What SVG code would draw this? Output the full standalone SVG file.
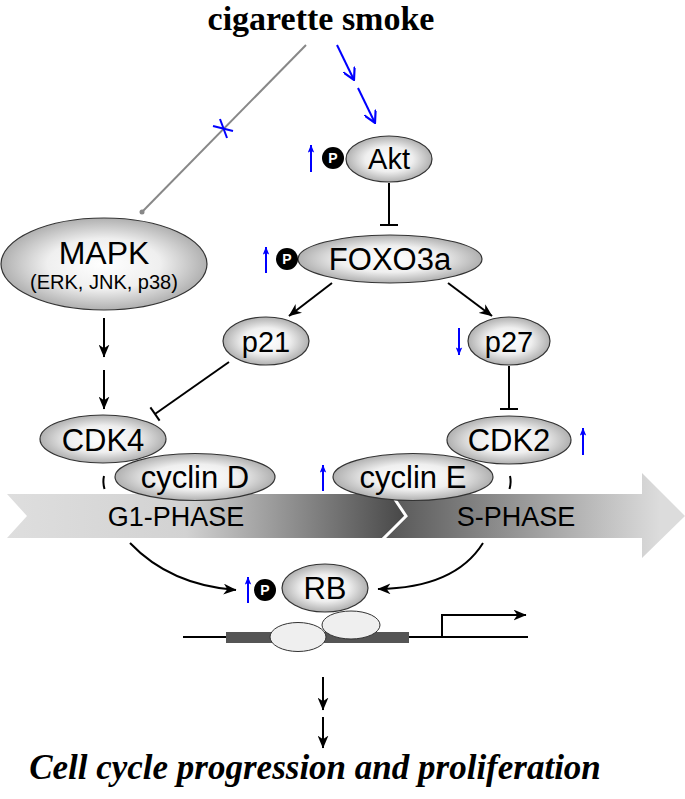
<svg xmlns="http://www.w3.org/2000/svg" width="685" height="799" viewBox="0 0 685 799">
<defs>
<radialGradient id="eg" cx="50%" cy="50%" r="55%">
<stop offset="0" stop-color="#ffffff"/>
<stop offset="0.5" stop-color="#efefef"/>
<stop offset="1" stop-color="#a2a2a2"/>
</radialGradient>
<linearGradient id="g1" gradientUnits="userSpaceOnUse" x1="7" y1="0" x2="405" y2="0">
<stop offset="0" stop-color="#dedede"/>
<stop offset="0.45" stop-color="#d2d2d2"/>
<stop offset="1" stop-color="#474747"/>
</linearGradient>
<linearGradient id="gs" gradientUnits="userSpaceOnUse" x1="385" y1="0" x2="660" y2="0">
<stop offset="0" stop-color="#555555"/>
<stop offset="1" stop-color="#dcdcdc"/>
</linearGradient>
<marker id="ab" viewBox="0 0 12 10" refX="11.5" refY="5" markerWidth="13" markerHeight="11" markerUnits="userSpaceOnUse" orient="auto">
<path d="M0,0 L12,5 L0,10 L3.5,5 z" fill="#000"/>
</marker>
<marker id="au" viewBox="0 0 10 8" refX="9.5" refY="4" markerWidth="8" markerHeight="7" markerUnits="userSpaceOnUse" orient="auto">
<path d="M0,0 L10,4 L0,8 L2,4 z" fill="#0000ff"/>
</marker>
<marker id="av" viewBox="0 0 12 12" refX="11" refY="6" markerWidth="13" markerHeight="13" markerUnits="userSpaceOnUse" orient="auto">
<path d="M0,0 L11,6 L0,12" fill="none" stroke="#0000ff" stroke-width="2"/>
</marker>
</defs>
<style>
.node{fill:url(#eg);stroke:#333;stroke-width:1.2}
.lbl{font-family:"Liberation Sans",Arial,sans-serif;fill:#000;text-anchor:middle}
.ph{fill:#000;stroke:none}
.pt{font-family:"Liberation Sans",Arial,sans-serif;font-weight:bold;font-size:14px;fill:#fff;text-anchor:middle}
.blk{stroke:#000;stroke-width:2;fill:none}
.blu{stroke:#0000ff;stroke-width:2;fill:none}
.ttl{font-family:"Liberation Serif","Times New Roman",serif;font-weight:bold;fill:#000;text-anchor:middle}
</style>
<rect width="685" height="799" fill="#fff"/>

<g id="title"><text class="ttl" x="321" y="30" font-size="34">cigarette smoke</text></g>

<g id="connectors">
<line x1="306" y1="45" x2="143" y2="211" stroke="#888" stroke-width="2"/>
<circle cx="142" cy="212" r="2.5" fill="#888"/>
<line x1="213" y1="126" x2="233" y2="131" class="blu"/>
<line x1="220" y1="119" x2="227" y2="138" class="blu"/>
<line x1="337" y1="45" x2="354" y2="80" class="blu" marker-end="url(#av)"/>
<line x1="358" y1="88" x2="375" y2="123" class="blu" marker-end="url(#av)"/>
<line x1="389" y1="183" x2="389" y2="225" class="blk"/>
<line x1="380" y1="225" x2="398" y2="225" class="blk"/>
<line x1="332" y1="283" x2="289" y2="316" class="blk" marker-end="url(#ab)"/>
<line x1="448" y1="283" x2="492" y2="316" class="blk" marker-end="url(#ab)"/>
<line x1="509" y1="366" x2="509" y2="409" class="blk"/>
<line x1="500" y1="409" x2="518" y2="409" class="blk"/>
<line x1="229" y1="362" x2="155" y2="414" class="blk"/>
<line x1="150.4" y1="407.4" x2="159.6" y2="420.6" class="blk"/>
<line x1="104" y1="318" x2="104" y2="357" class="blk" marker-end="url(#ab)"/>
<line x1="104" y1="370" x2="104" y2="409" class="blk" marker-end="url(#ab)"/>
<path d="M104,476 Q102.5,482 104.5,489" class="blk"/>
<path d="M510,476 Q511.5,482 509.5,489" class="blk"/>
<path d="M130,543 Q170,585 236,590" class="blk" marker-end="url(#ab)"/>
<path d="M483,543 Q455,588 378,589" class="blk" marker-end="url(#ab)"/>
<line x1="323" y1="677" x2="323" y2="710" class="blk" marker-end="url(#ab)"/>
<line x1="323" y1="717" x2="323" y2="748" class="blk" marker-end="url(#ab)"/>
</g>

<g id="phase-band">
<polygon points="7,494 390,494 406,516 382,538 7,538 27,516" fill="url(#g1)"/>
<polygon points="390,494 642,494 642,473 685,516 642,558 642,538 382,538 406,516" fill="url(#gs)"/>
<polyline points="390,492 406,516 382,540" fill="none" stroke="#fff" stroke-width="3"/>
<text class="lbl" x="176" y="526" font-size="27" fill="#111">G1-PHASE</text>
<text class="lbl" x="516" y="526" font-size="27">S-PHASE</text>
</g>

<g id="akt">
<ellipse class="node" cx="389" cy="159" rx="43" ry="23"/>
<text class="lbl" x="389" y="169" font-size="29">Akt</text>
<circle class="ph" cx="333" cy="158" r="11"/>
<text class="pt" x="333" y="163">P</text>
<line x1="311" y1="172" x2="311" y2="145" class="blu" marker-end="url(#au)"/>
</g>

<g id="foxo3a">
<ellipse class="node" cx="390" cy="259" rx="92" ry="24"/>
<text class="lbl" x="390" y="270" font-size="31">FOXO3a</text>
<circle class="ph" cx="287" cy="259" r="11"/>
<text class="pt" x="287" y="264">P</text>
<line x1="266" y1="273" x2="266" y2="247" class="blu" marker-end="url(#au)"/>
</g>

<g id="mapk">
<ellipse class="node" cx="104" cy="264" rx="103" ry="46"/>
<text class="lbl" x="104" y="264" font-size="32">MAPK</text>
<text class="lbl" x="104" y="289" font-size="20">(ERK, JNK, p38)</text>
</g>

<g id="p21">
<ellipse class="node" cx="266" cy="341" rx="43" ry="24"/>
<text class="lbl" x="266" y="352" font-size="29">p21</text>
</g>

<g id="p27">
<ellipse class="node" cx="509" cy="341" rx="41" ry="24"/>
<text class="lbl" x="509" y="352" font-size="29">p27</text>
<line x1="459" y1="328" x2="459" y2="355" class="blu" marker-end="url(#au)"/>
</g>

<g id="cdk4">
<ellipse class="node" cx="103" cy="439" rx="63" ry="24"/>
<text class="lbl" x="103" y="451" font-size="31">CDK4</text>
</g>

<g id="cyclinD">
<ellipse class="node" cx="195" cy="477" rx="80" ry="23.5"/>
<text class="lbl" x="195" y="488" font-size="31">cyclin D</text>
</g>

<g id="cyclinE">
<ellipse class="node" cx="413" cy="477" rx="80" ry="23.5"/>
<text class="lbl" x="413" y="488" font-size="31">cyclin E</text>
<line x1="323" y1="491" x2="323" y2="465" class="blu" marker-end="url(#au)"/>
</g>

<g id="cdk2">
<ellipse class="node" cx="509" cy="440" rx="62" ry="24"/>
<text class="lbl" x="509" y="451" font-size="31">CDK2</text>
<line x1="583" y1="455" x2="583" y2="428" class="blu" marker-end="url(#au)"/>
</g>

<g id="dna">
<line x1="183" y1="637" x2="528" y2="637" stroke="#000" stroke-width="2"/>
<rect x="226" y="632" width="183" height="11" fill="#555"/>
<polyline points="442,637 442,615 526,615" fill="none" stroke="#000" stroke-width="2" marker-end="url(#ab)"/>
<ellipse cx="298" cy="637" rx="28" ry="14.5" fill="#efefef" stroke="#333" stroke-width="1"/>
<ellipse cx="351" cy="625" rx="29" ry="14" fill="#efefef" stroke="#333" stroke-width="1"/>
</g>

<g id="rb">
<ellipse class="node" cx="325" cy="588" rx="43" ry="24"/>
<text class="lbl" x="325" y="599" font-size="31">RB</text>
<circle class="ph" cx="265" cy="590" r="11"/>
<text class="pt" x="265" y="595">P</text>
<line x1="248" y1="603" x2="248" y2="577" class="blu" marker-end="url(#au)"/>
</g>

<g id="outcome"><text class="ttl" x="315" y="779" font-size="35" font-style="italic">Cell cycle progression and proliferation</text></g>
</svg>
